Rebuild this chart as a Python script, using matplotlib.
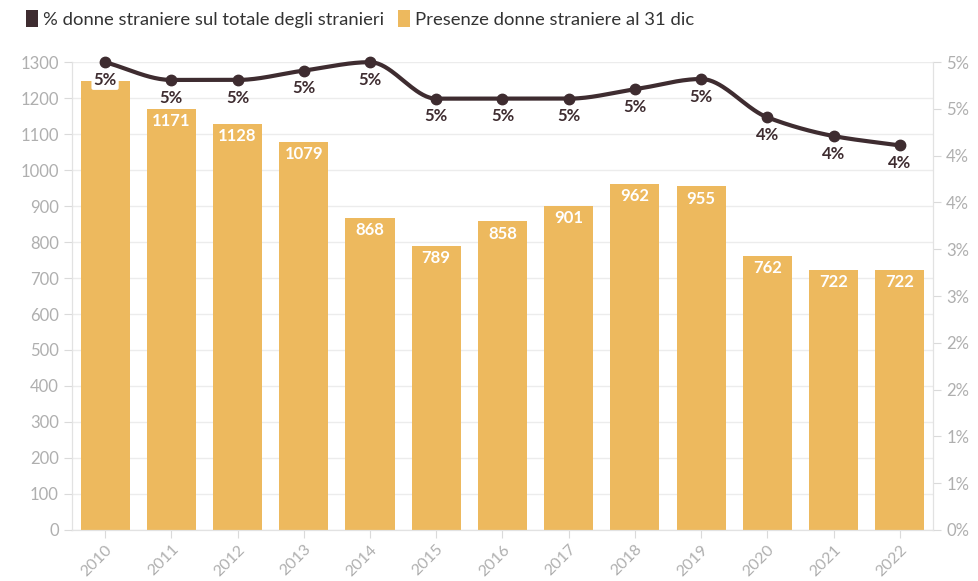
import math
import numpy as np
import matplotlib
matplotlib.use("Agg")
import matplotlib.pyplot as plt
from matplotlib.ticker import FixedLocator, FuncFormatter
from matplotlib.patches import Patch

plt.rcParams['font.family'] = ['Lato', 'DejaVu Sans']

years = ["2010", "2011", "2012", "2013", "2014", "2015", "2016",
         "2017", "2018", "2019", "2020", "2021", "2022"]
presenze = [1248, 1171, 1128, 1079, 868, 789, 858, 901, 962, 955, 762, 722, 722]
quota_pct = [5.00, 4.81, 4.81, 4.91, 5.00, 4.61, 4.61, 4.61, 4.71, 4.82, 4.41, 4.21, 4.11]

BAR = "#EDB95E"
LINE = "#3E2C30"
GRID = "#ECECEC"
TICK = "#AFAFAF"


def round_half_up(v):
    return int(math.floor(v + 0.5))


def monotone_curve(x, y, n=40):
    """Fritsch-Carlson monotone cubic through the given points."""
    x = np.asarray(x, float)
    y = np.asarray(y, float)
    h = np.diff(x)
    d = np.diff(y) / h
    m = np.zeros_like(y)
    m[0], m[-1] = d[0], d[-1]
    for i in range(1, len(y) - 1):
        if d[i - 1] * d[i] <= 0:
            m[i] = 0.0
        else:
            w1 = 2 * h[i] + h[i - 1]
            w2 = h[i] + 2 * h[i - 1]
            m[i] = (w1 + w2) / (w1 / d[i - 1] + w2 / d[i])
    xs, ys = [], []
    for i in range(len(x) - 1):
        t = np.linspace(0, 1, n, endpoint=False)
        h00 = 2 * t**3 - 3 * t**2 + 1
        h10 = t**3 - 2 * t**2 + t
        h01 = -2 * t**3 + 3 * t**2
        h11 = t**3 - t**2
        xs.append(x[i] + t * h[i])
        ys.append(h00 * y[i] + h10 * h[i] * m[i] + h01 * y[i + 1] + h11 * h[i] * m[i + 1])
    xs.append([x[-1]])
    ys.append([y[-1]])
    return np.concatenate(xs), np.concatenate(ys)


fig = plt.figure(figsize=(9.79, 5.81), dpi=100)
ax = fig.add_axes([0.0735, 0.088, 0.8795, 0.805])
ax2 = ax.twinx()

xpos = np.arange(len(years))
ax.bar(xpos, presenze, width=0.74, color=BAR, zorder=2)

ax.set_xlim(-0.5, len(years) - 0.5)
ax.set_ylim(0, 1300)
ax.yaxis.set_major_locator(FixedLocator(np.arange(0, 1301, 100)))
ax.grid(axis="y", color=GRID, linewidth=1, zorder=0)
ax.set_axisbelow(True)
ax.set_xticks(xpos)
ax.set_xticklabels(years, rotation=45, ha="right", rotation_mode="anchor")

for a in (ax, ax2):
    a.spines["top"].set_visible(False)
    for side in ("left", "right", "bottom"):
        a.spines[side].set_color("#E2E2E2")
    a.tick_params(colors="#DADADA", labelcolor=TICK, labelsize=12, length=6)
ax.tick_params(axis="x", length=6, pad=3, labelsize=11.5)

# bar values, written inside the top of each bar
for i, v in enumerate(presenze):
    if i == 0:
        continue
    ax.text(i, v - 12, str(v), ha="center", va="top", color="white",
            fontsize=12, fontweight="bold", zorder=4)

# percentage line on the secondary axis
ax2.set_ylim(0, 5)
ax2.yaxis.set_major_locator(FixedLocator(np.arange(0, 5.01, 0.5)))
ax2.yaxis.set_major_formatter(FuncFormatter(lambda v, p: f"{round_half_up(v)}%"))
cx, cy = monotone_curve(xpos, quota_pct)
ax2.plot(cx, cy, color=LINE, linewidth=3, zorder=5, solid_capstyle="round", clip_on=False)
ax2.plot(xpos, quota_pct, "o", color=LINE, markersize=7.5, zorder=6, clip_on=False)
for i, v in enumerate(quota_pct):
    ax2.annotate(f"{round_half_up(v)}%", (i, v), xytext=(0, -7),
                 textcoords="offset points", ha="center", va="top",
                 color=LINE, fontsize=12, fontweight="bold", zorder=7,
                 bbox=dict(boxstyle="round,pad=0.12", fc="white", ec="none")
                 if i == 0 else None)

handles = [Patch(facecolor=LINE, edgecolor="none"), Patch(facecolor=BAR, edgecolor="none")]
labels = ["% donne straniere sul totale degli stranieri", "Presenze donne straniere al 31 dic"]
fig.legend(handles, labels, loc="upper left", bbox_to_anchor=(0.01, 1.012), ncol=2,
           frameon=False, fontsize=13.3, handlelength=0.65, handleheight=1.1,
           handletextpad=0.25, columnspacing=0.75, labelcolor="#333333")

fig.savefig("out.png", dpi=100)
